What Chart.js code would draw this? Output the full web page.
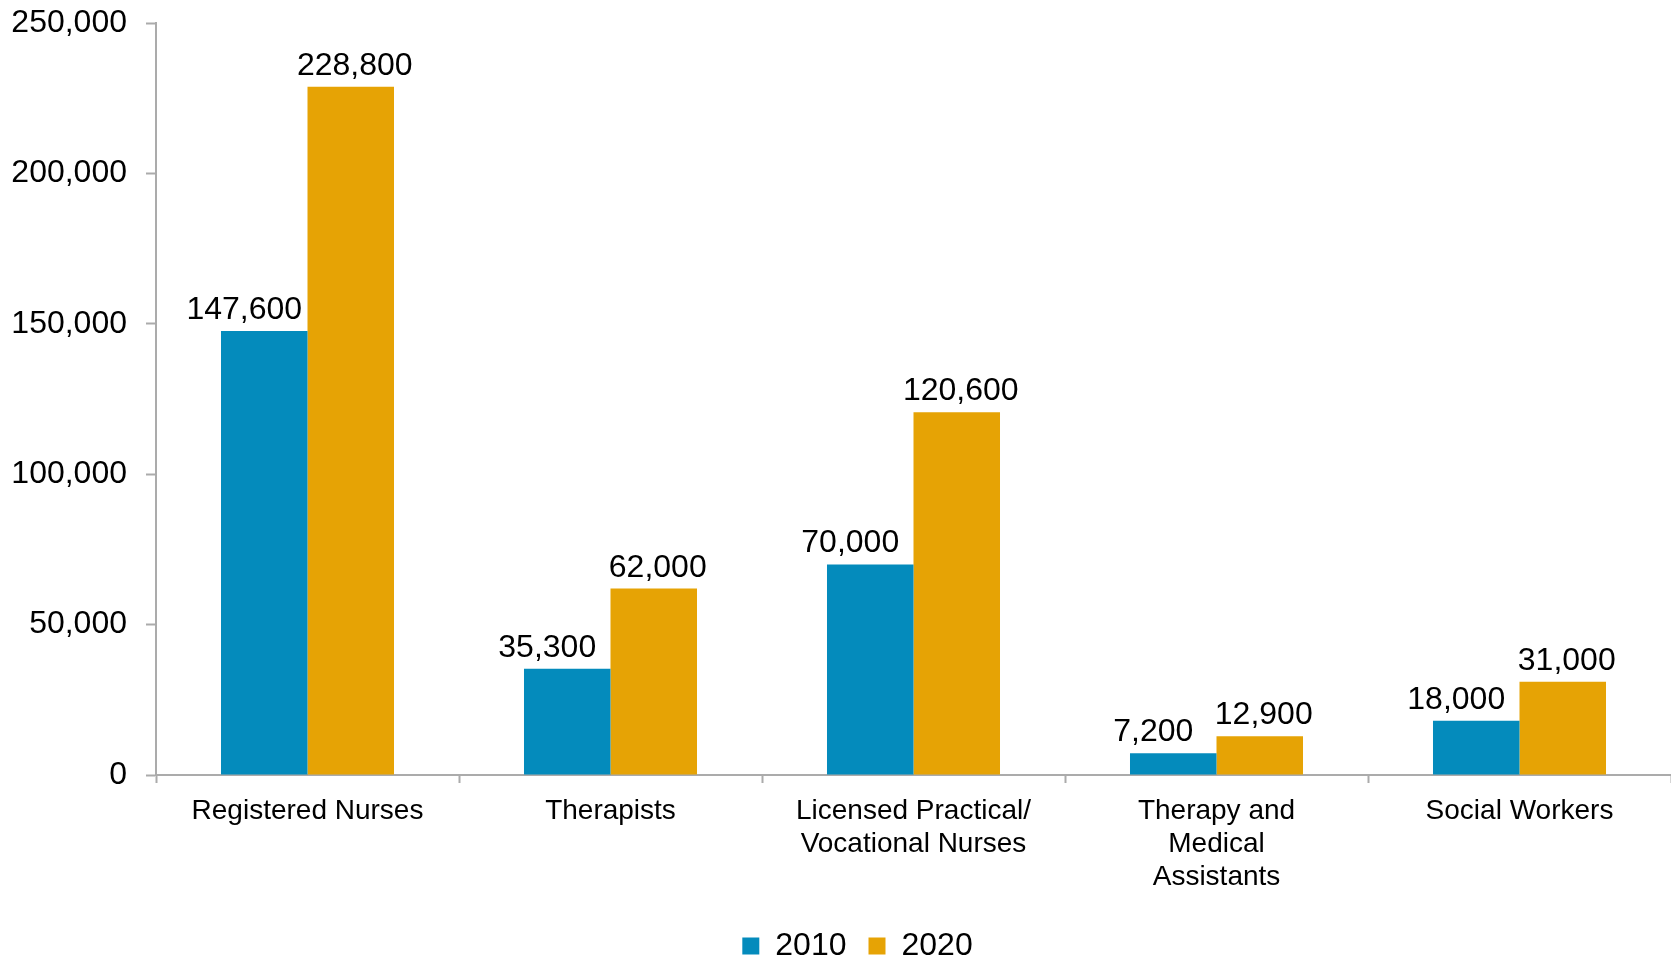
<!DOCTYPE html>
<html>
<head>
<meta charset="utf-8">
<script src="https://cdn.jsdelivr.net/npm/chart.js@4/dist/chart.umd.min.js"></script>
<style>
  html, body { margin: 0; padding: 0; background: #fff; }
  #wrap { width: 1671px; height: 966px; position: relative; }
</style>
</head>
<body>
<div id="wrap"><canvas id="chart"></canvas></div>
<script>
const categories = [
  'Registered Nurses',
  'Therapists',
  ['Licensed Practical/', 'Vocational Nurses'],
  ['Therapy and', 'Medical', 'Assistants'],
  'Social Workers'
];
const values2010 = [147600, 35300, 70000, 7200, 18000];
const values2020 = [228800, 62000, 120600, 12900, 31000];
const seriesNames = ['2010', '2020'];
const yTicks = [0, 50000, 100000, 150000, 200000, 250000];

const FONT = "'Liberation Sans', Arial, sans-serif";
const AXIS = '#ABABAB';
const PLOT_BOTTOM = 775;
const BOTTOM_PAD = -6;
const fmt = v => v.toLocaleString('en-US');

// draws the value above every bar
const valueLabels = {
  id: 'valueLabels',
  afterDatasetsDraw(chart) {
    const ctx = chart.ctx;
    ctx.save();
    ctx.font = '32px ' + FONT;
    ctx.fillStyle = '#000';
    ctx.textAlign = 'center';
    ctx.textBaseline = 'alphabetic';
    chart.data.datasets.forEach((ds, i) => {
      const shift = ds.labelShift || 0;
      chart.getDatasetMeta(i).data.forEach((bar, j) => {
        ctx.fillText(fmt(ds.data[j]), bar.x + shift, bar.y - 12);
      });
    });
    ctx.restore();
  }
};

// centre the legend under the plot area rather than the whole canvas
const legendShift = {
  id: 'legendShift',
  afterLayout(chart) {
    if (chart.legend) chart.legend.left += 44;
  }
};

new Chart(document.getElementById('chart'), {
  type: 'bar',
  data: {
    labels: categories,
    datasets: [
      { label: seriesNames[0], data: values2010, backgroundColor: '#048BBC', labelShift: -20 },
      { label: seriesNames[1], data: values2020, backgroundColor: '#E6A305', labelShift: 4 }
    ]
  },
  options: {
    responsive: true,
    maintainAspectRatio: false,
    animation: false,
    categoryPercentage: 0.571,
    barPercentage: 1.0,
    layout: { padding: { left: 0, right: 0, top: 23, bottom: BOTTOM_PAD } },
    plugins: {
      tooltip: { enabled: false },
      legend: {
        position: 'bottom',
        labels: {
          boxWidth: 17,
          boxHeight: 17,
          padding: 22,
          color: '#000',
          font: { family: FONT, size: 32 }
        }
      }
    },
    scales: {
      x: {
        grid: {
          display: true,
          drawOnChartArea: false,
          drawTicks: true,
          tickLength: 8,
          tickWidth: 2,
          tickColor: AXIS,
          offset: true
        },
        border: { display: true, color: AXIS, width: 2 },
        ticks: {
          color: '#000',
          padding: 12,
          maxRotation: 0,
          autoSkip: false,
          font: { family: FONT, size: 28, lineHeight: 1.18 }
        },
        afterFit(scale) {
          const lg = scale.chart.legend ? scale.chart.legend.height : 70;
          scale.height = scale.chart.height - BOTTOM_PAD - lg - PLOT_BOTTOM;
          scale.paddingLeft = 0;
          scale.paddingRight = 0;
        }
      },
      y: {
        min: 0,
        max: 250000,
        afterBuildTicks(scale) {
          scale.ticks = yTicks.map(v => ({ value: v }));
        },
        grid: {
          display: true,
          drawOnChartArea: false,
          drawTicks: true,
          tickLength: 10,
          tickWidth: 2,
          tickColor: AXIS
        },
        border: { display: true, color: AXIS, width: 2 },
        ticks: {
          color: '#000',
          padding: 19,
          font: { family: FONT, size: 32 },
          callback: v => fmt(v)
        },
        afterFit(scale) {
          scale.width = 156;
          scale.paddingTop = 0;
          scale.paddingBottom = 0;
        }
      }
    }
  },
  plugins: [valueLabels, legendShift]
});
</script>
</body>
</html>
